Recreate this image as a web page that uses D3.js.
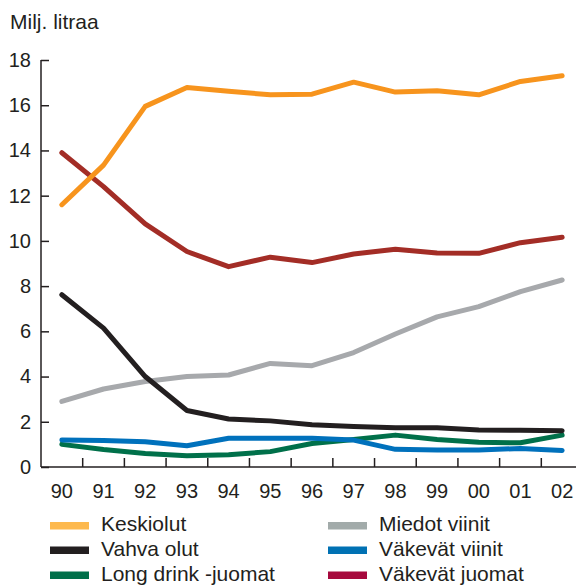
<!DOCTYPE html>
<html>
<head>
<meta charset="utf-8">
<script src="https://cdn.jsdelivr.net/npm/d3@7"></script>
<style>
  html, body { margin: 0; padding: 0; background: #fff; }
  svg { display: block; font-family: "Liberation Sans", Arial, Helvetica, sans-serif; }
</style>
</head>
<body>
<svg id="chart" width="581" height="585"></svg>
<script>
// ---- Data ----
const years = ["90","91","92","93","94","95","96","97","98","99","00","01","02"];
const yTicks = [0, 2, 4, 6, 8, 10, 12, 14, 16, 18];
const yLabel = "Milj. litraa";

const keskiolut     = [11.6, 13.35, 15.95, 16.78, 16.62, 16.46, 16.49, 17.02, 16.58, 16.64, 16.46, 17.05, 17.3];
const vahvaOlut     = [7.62, 6.14, 4.0, 2.5, 2.12, 2.04, 1.87, 1.79, 1.74, 1.74, 1.64, 1.62, 1.6];
const longDrink     = [1.0, 0.77, 0.6, 0.5, 0.54, 0.68, 1.04, 1.22, 1.41, 1.22, 1.09, 1.07, 1.41];
const miedotViinit  = [2.9, 3.45, 3.78, 4.0, 4.07, 4.58, 4.48, 5.06, 5.88, 6.64, 7.09, 7.76, 8.27];
const vakevatViinit = [1.19, 1.17, 1.12, 0.94, 1.27, 1.27, 1.27, 1.19, 0.78, 0.75, 0.75, 0.82, 0.73];
const vakevatJuomat = [13.9, 12.4, 10.75, 9.53, 8.86, 9.28, 9.04, 9.42, 9.63, 9.46, 9.45, 9.92, 10.16];

const seriesNames = ["Keskiolut", "Vahva olut", "Long drink -juomat", "Miedot viinit", "Väkevät viinit", "Väkevät juomat"];
const seriesValues = [keskiolut, vahvaOlut, longDrink, miedotViinit, vakevatViinit, vakevatJuomat];
const lineColors   = ["#F7941D", "#231F20", "#00704A", "#A7A9AC", "#0071BC", "#A32D26"];
const legendColors = ["#FDB94E", "#231F20", "#00704A", "#A2ABAA", "#0071B3", "#A6093D"];
// drawing order (back to front)
const drawOrder = [3, 2, 4, 1, 5, 0];

// ---- Layout ----
const svg = d3.select("#chart");
const axisColor = "#231F20";
const x = d3.scaleBand().domain(years).range([41, 583]).paddingInner(0).paddingOuter(0);
const y = d3.scaleLinear().domain([0, 18]).range([467, 60]);
const cx = d => x(d) + x.bandwidth() / 2;

// Title
svg.append("text")
  .attr("x", 10).attr("y", 29)
  .attr("font-size", 21).attr("fill", "#231F20")
  .text(yLabel);

// Y axis
const yAxis = svg.append("g")
  .attr("transform", `translate(${x.range()[0]},0)`)
  .call(d3.axisLeft(y).tickValues(yTicks).tickSizeInner(-8).tickSizeOuter(0).tickPadding(10).tickFormat(d3.format("d")));
yAxis.select(".domain").attr("stroke", axisColor).attr("stroke-width", 1.5)
  .attr("d", `M0,${y(0)}V${y(18)}`);
yAxis.selectAll(".tick line").attr("stroke", axisColor).attr("stroke-width", 1.5);
yAxis.selectAll(".tick text").attr("font-size", 20).attr("fill", "#231F20")
  .attr("font-family", "'Liberation Sans', Arial, sans-serif");

// X axis
const xAxis = svg.append("g")
  .attr("transform", `translate(0,${y(0)})`)
  .call(d3.axisBottom(x).tickSize(0).tickPadding(17));
xAxis.select(".domain").attr("stroke", axisColor).attr("stroke-width", 1.5)
  .attr("d", `M${x.range()[0]},0H576`);
xAxis.selectAll(".tick text").attr("font-size", 20).attr("fill", "#231F20")
  .attr("font-family", "'Liberation Sans', Arial, sans-serif");
// boundary ticks pointing up
xAxis.selectAll(".btick").data(years.slice(1)).enter().append("line")
  .attr("class", "btick")
  .attr("x1", d => x(d)).attr("x2", d => x(d))
  .attr("y1", 0).attr("y2", -9)
  .attr("stroke", axisColor).attr("stroke-width", 1.5);

// Lines
const line = d3.line().x((d, i) => cx(years[i])).y(d => y(d));
svg.append("g").selectAll("path").data(drawOrder).enter().append("path")
  .attr("d", i => line(seriesValues[i]))
  .attr("fill", "none")
  .attr("stroke", i => lineColors[i])
  .attr("stroke-width", 5)
  .attr("stroke-linecap", "round")
  .attr("stroke-linejoin", "round");

// Legend
const legendCols = [50, 328];
const legendRows = [531, 555.5, 580.5];
const legend = svg.append("g");
seriesNames.forEach((name, i) => {
  const col = Math.floor(i / 3), row = i % 3;
  const g = legend.append("g").attr("transform", `translate(${legendCols[col]},${legendRows[row]})`);
  g.append("rect").attr("x", 0).attr("y", -9).attr("width", 39).attr("height", 7.5)
    .attr("fill", legendColors[i]);
  g.append("text").attr("x", 51).attr("y", 0).attr("font-size", 21).attr("fill", "#231F20").text(name);
});
</script>
</body>
</html>
